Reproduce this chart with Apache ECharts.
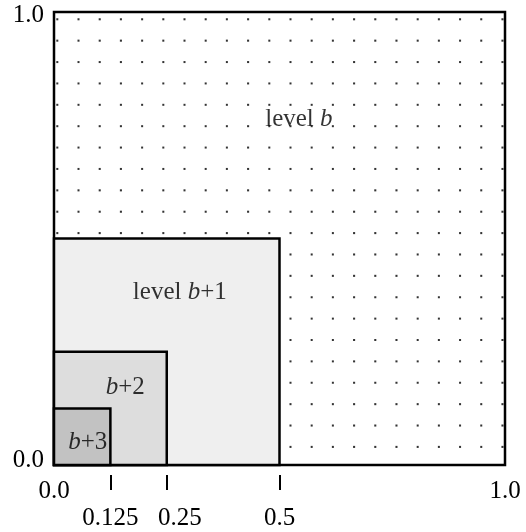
<!DOCTYPE html>
<html>
<head>
<meta charset="utf-8">
<script src="https://cdn.jsdelivr.net/npm/echarts@6/dist/echarts.min.js"></script>
<style>
html, body { margin: 0; padding: 0; background: #fff; }
#main { width: 526px; height: 532px; }
</style>
</head>
<body>
<div id="main"></div>
<script>
// data
var levelSizes = [1, 0.5, 0.25, 0.125];
var levelNames = ['level b', 'level b+1', 'b+2', 'b+3'];
var labelAt = [[0.543, 0.762], [0.279, 0.381], [0.158, 0.171], [0.075, 0.049]];
var xTicks = [0.125, 0.25, 0.5];
var xTickLabels = ['0.125', '0.25', '0.5'];
var xEndLabels = ['0.0', '1.0'];
var yTickLabels = ['0.0', '1.0'];

// styles
var FONT = 'Liberation Serif';
var levelFills = [null, '#efefef', '#dddddd', '#c2c2c2'];

// dotted texture for level b (one dot per tile)
var tile = document.createElement('canvas');
tile.width = 21;
tile.height = 21;
var tctx = tile.getContext('2d');
tctx.fillStyle = '#fff';
tctx.fillRect(0, 0, 21, 21);
tctx.fillStyle = '#333';
tctx.fillRect(10, 10, 2, 2);
var dotOrigin = [0.0073, 0.984];
var dotStep = [0.047, 0.0472];

function renderLevel(params, api) {
    var s = api.value(0);
    var tl = api.coord([0, s]);
    var br = api.coord([s, 0]);
    var fill = levelFills[params.dataIndex];
    if (!fill) {
        var o = api.coord(dotOrigin);
        var st = api.size(dotStep);
        var sx = st[0] / 21, sy = st[1] / 21;
        fill = {
            type: 'pattern', image: tile, repeat: 'repeat',
            x: o[0] - 11 * sx, y: o[1] - 11 * sy, scaleX: sx, scaleY: sy
        };
    }
    return {
        type: 'rect',
        shape: { x: tl[0], y: tl[1], width: br[0] - tl[0], height: br[1] - tl[1] },
        style: { fill: fill, stroke: '#000', lineWidth: 2.5 }
    };
}

var myChart = echarts.init(document.getElementById('main'));
var option = {
    animation: false,
    grid: { left: 54, right: 21, top: 12, bottom: 67, containLabel: false, outerBoundsMode: 'none' },
    xAxis: [
        {
            type: 'value', min: 0, max: 1, interval: 1,
            axisLine: { show: false }, axisTick: { show: false }, splitLine: { show: false },
            axisLabel: {
                margin: 14, fontFamily: FONT, fontSize: 25, color: '#000',
                formatter: function (v) { return xEndLabels[Math.round(v)]; }
            }
        },
        {
            type: 'value', min: 0, max: 1, position: 'bottom', offset: 10,
            axisLine: { show: false }, splitLine: { show: false },
            axisTick: {
                show: true, customValues: xTicks, length: 15,
                lineStyle: { color: '#000', width: 2 }
            },
            axisLabel: {
                customValues: xTicks, margin: 31, fontFamily: FONT, fontSize: 25, color: '#000',
                formatter: function (v) {
                    var i = xTicks.indexOf(v);
                    return i === 1 ? '{s|' + xTickLabels[i] + '}' : xTickLabels[i];
                },
                rich: { s: { padding: [0, 0, 0, 26] } }
            }
        }
    ],
    yAxis: {
        type: 'value', min: 0, max: 1, interval: 1,
        axisLine: { show: false }, axisTick: { show: false }, splitLine: { show: false },
        axisLabel: {
            margin: 10, fontFamily: FONT, fontSize: 25, color: '#000',
            formatter: function (v) {
                return v === 1 ? '{t|' + yTickLabels[1] + '}' : '{b|' + yTickLabels[0] + '}';
            },
            rich: { t: { padding: [7, 0, 0, 0] }, b: { padding: [0, 0, 10, 0] } }
        }
    },
    series: [
        {
            type: 'custom',
            renderItem: renderLevel,
            encode: { x: 0, y: 1 },
            data: levelSizes.map(function (s) { return [s, s]; }),
            silent: true
        },
        {
            type: 'scatter',
            symbolSize: 0,
            silent: true,
            data: labelAt.map(function (p, i) { return { value: p, name: levelNames[i] }; }),
            label: {
                show: true, position: 'inside',
                fontFamily: FONT, fontSize: 25, color: '#000',
                formatter: function (p) { return p.name.replace('b', '{i|b}'); },
                rich: { i: { fontFamily: FONT, fontSize: 25, fontStyle: 'italic', color: '#000' } }
            }
        }
    ]
};
myChart.setOption(option);
</script>
</body>
</html>
